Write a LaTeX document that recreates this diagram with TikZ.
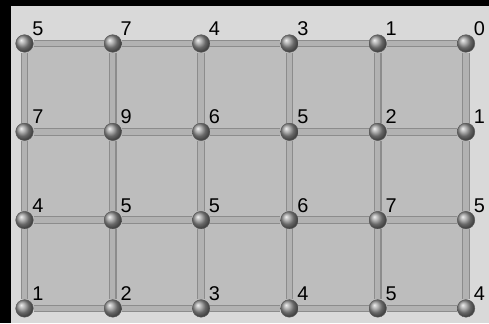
\documentclass[tikz,border=0pt]{standalone}
\usepackage{fontspec}
\setmainfont{Liberation Sans}
\usepackage{tikz}

\begin{document}
\begin{tikzpicture}[x=0.03cm,y=-0.03cm,
  site/.style={circle, draw=black!65, thin, ball color=black!42, inner sep=0pt, minimum size=15pt},
  rod/.style={draw=black!45, line width=1pt, double=black!30, double distance=4.6pt},
  lbl/.style={inner sep=0pt, label distance=1.5pt, font=\fontsize{17}{19}\selectfont}]
\useasboundingbox (0,0) rectangle (489,323);
\fill[black] (0,0) rectangle (489,323);
\fill[black!15] (11,6) rectangle (489,323);
\fill[black!26] (24.5,43.5) rectangle (466,308.4);
% row 1
\node[site, label={[lbl]45:5}] (v11) at (24.5,43.5) {};
\node[site, label={[lbl]45:7}] (v12) at (112.8,43.5) {};
\node[site, label={[lbl]45:4}] (v13) at (201.1,43.5) {};
\node[site, label={[lbl]45:3}] (v14) at (289.4,43.5) {};
\node[site, label={[lbl]45:1}] (v15) at (377.7,43.5) {};
\node[site, label={[lbl]45:0}] (v16) at (466.0,43.5) {};
% row 2
\node[site, label={[lbl]45:7}] (v21) at (24.5,131.8) {};
\node[site, label={[lbl]45:9}] (v22) at (112.8,131.8) {};
\node[site, label={[lbl]45:6}] (v23) at (201.1,131.8) {};
\node[site, label={[lbl]45:5}] (v24) at (289.4,131.8) {};
\node[site, label={[lbl]45:2}] (v25) at (377.7,131.8) {};
\node[site, label={[lbl]45:1}] (v26) at (466.0,131.8) {};
% row 3
\node[site, label={[lbl]45:4}] (v31) at (24.5,220.1) {};
\node[site, label={[lbl]45:5}] (v32) at (112.8,220.1) {};
\node[site, label={[lbl]45:5}] (v33) at (201.1,220.1) {};
\node[site, label={[lbl]45:6}] (v34) at (289.4,220.1) {};
\node[site, label={[lbl]45:7}] (v35) at (377.7,220.1) {};
\node[site, label={[lbl]45:5}] (v36) at (466.0,220.1) {};
% row 4
\node[site, label={[lbl]45:1}] (v41) at (24.5,308.4) {};
\node[site, label={[lbl]45:2}] (v42) at (112.8,308.4) {};
\node[site, label={[lbl]45:3}] (v43) at (201.1,308.4) {};
\node[site, label={[lbl]45:4}] (v44) at (289.4,308.4) {};
\node[site, label={[lbl]45:5}] (v45) at (377.7,308.4) {};
\node[site, label={[lbl]45:4}] (v46) at (466.0,308.4) {};
% horizontal rods
\draw[rod] (v11) -- (v12); \draw[rod] (v12) -- (v13); \draw[rod] (v13) -- (v14); \draw[rod] (v14) -- (v15); \draw[rod] (v15) -- (v16);
\draw[rod] (v21) -- (v22); \draw[rod] (v22) -- (v23); \draw[rod] (v23) -- (v24); \draw[rod] (v24) -- (v25); \draw[rod] (v25) -- (v26);
\draw[rod] (v31) -- (v32); \draw[rod] (v32) -- (v33); \draw[rod] (v33) -- (v34); \draw[rod] (v34) -- (v35); \draw[rod] (v35) -- (v36);
\draw[rod] (v41) -- (v42); \draw[rod] (v42) -- (v43); \draw[rod] (v43) -- (v44); \draw[rod] (v44) -- (v45); \draw[rod] (v45) -- (v46);
% vertical rods
\draw[rod] (v11) -- (v21); \draw[rod] (v21) -- (v31); \draw[rod] (v31) -- (v41);
\draw[rod] (v12) -- (v22); \draw[rod] (v22) -- (v32); \draw[rod] (v32) -- (v42);
\draw[rod] (v13) -- (v23); \draw[rod] (v23) -- (v33); \draw[rod] (v33) -- (v43);
\draw[rod] (v14) -- (v24); \draw[rod] (v24) -- (v34); \draw[rod] (v34) -- (v44);
\draw[rod] (v15) -- (v25); \draw[rod] (v25) -- (v35); \draw[rod] (v35) -- (v45);
\draw[rod] (v16) -- (v26); \draw[rod] (v26) -- (v36); \draw[rod] (v36) -- (v46);
\end{tikzpicture}
\end{document}
